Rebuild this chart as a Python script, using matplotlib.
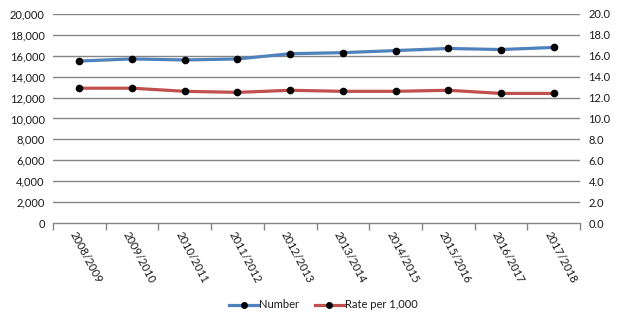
import matplotlib
matplotlib.use("Agg")
import matplotlib.pyplot as plt
from matplotlib.ticker import FuncFormatter, FixedLocator
from matplotlib.lines import Line2D

years = ["2008/2009", "2009/2010", "2010/2011", "2011/2012", "2012/2013",
         "2013/2014", "2014/2015", "2015/2016", "2016/2017", "2017/2018"]
number = [15500, 15700, 15600, 15700, 16200, 16300, 16500, 16700, 16600, 16800]
rate = [12.9, 12.9, 12.6, 12.5, 12.7, 12.6, 12.6, 12.7, 12.4, 12.4]
left_ticks = list(range(0, 20001, 2000))
right_ticks = [v / 1000 for v in left_ticks]

blue = "#4F81BD"
red = "#C0504D"
grid = "#868686"
txt = "#1a1a1a"

plt.rcParams["font.family"] = ["Lato", "DejaVu Sans"]
fig = plt.figure(figsize=(6.22, 3.25), dpi=100)
ax = fig.add_axes([53 / 622, 1 - 223 / 325, (580 - 53) / 622, (223 - 14) / 325])
ax2 = ax.twinx()

x = list(range(len(years)))
style = dict(lw=2.3, marker="o", ms=4.5, mfc="black", mec="black", zorder=3)
ax.plot(x, number, color=blue, **style)
ax2.plot(x, rate, color=red, **style)

ax.set_xlim(-0.5, len(years) - 0.5)
ax.set_ylim(0, 20000)
ax2.set_ylim(0, 20)
ax.set_yticks(left_ticks)
ax2.set_yticks(right_ticks)
ax.yaxis.set_major_formatter(FuncFormatter(lambda v, p: f"{int(v):,}"))
ax2.yaxis.set_major_formatter(FuncFormatter(lambda v, p: f"{v:.1f}"))

for v in left_ticks[1:]:
    ax.axhline(v, color=grid, lw=1, zorder=1)

for a in (ax, ax2):
    for s in a.spines.values():
        s.set_visible(False)
    a.tick_params(axis="y", length=0, labelsize=8, colors=txt, pad=6)

ax.spines["bottom"].set_visible(True)
ax.spines["bottom"].set_color(grid)
ax.spines["bottom"].set_linewidth(1)

ax.xaxis.set_major_locator(FixedLocator([i - 0.5 for i in range(len(years) + 1)]))
ax.xaxis.set_major_formatter(FuncFormatter(lambda v, p: ""))
ax.tick_params(axis="x", length=5, color=grid, width=1, direction="out")

for i, lab in enumerate(years):
    ax.text(i - 0.12, -0.045, lab, transform=ax.get_xaxis_transform(),
            rotation=-62, rotation_mode="anchor", ha="left", va="center",
            fontsize=8, color=txt)

handles = [
    Line2D([], [], color=blue, lw=2.3, marker="o", ms=4, mfc="black", mec="black"),
    Line2D([], [], color=red, lw=2.3, marker="o", ms=4, mfc="black", mec="black"),
]
fig.legend(handles, ["Number", "Rate per 1,000"], loc="center",
           bbox_to_anchor=(0.52, 1 - 305 / 325), ncol=2, frameon=False,
           fontsize=8, handlelength=2.6, handletextpad=0.1, columnspacing=1.4,
           labelcolor=txt)

fig.savefig("out.png", dpi=100)
